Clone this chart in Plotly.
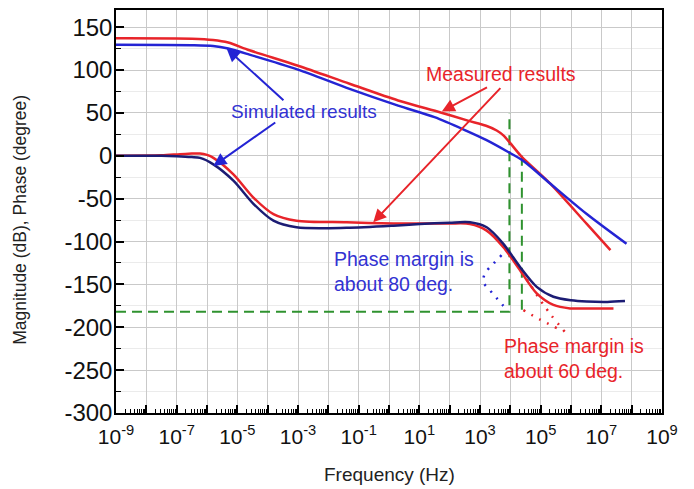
import plotly.graph_objects as go

# ---------------- data ----------------
# log10 of frequency (Hz) and values
mag_meas_logf = [-9, -6.5, -5.8, -5.3, -4.6, -3.0, -1.3, 0.3, 1.7, 2.6, 3.2, 3.55, 3.77, 3.99, 4.37, 5.3, 6.52, 7.3]
mag_meas_db = [137, 136.5, 135, 132, 123, 105, 84, 64.5, 50.5, 41, 35, 29.5, 23.8, 15, -1, -32, -79.5, -110]

mag_sim_logf = [-9, -6.5, -5.8, -5.3, -4.6, -3.0, -1.3, 0.3, 1.5, 2.5, 3.2, 3.9, 4.43, 5.3, 6.52, 7.83]
mag_sim_db = [129.5, 129, 128, 125, 118, 100.5, 78, 58.5, 45, 30, 18.5, 5, -6, -32, -68, -102.7]

ph_meas_logf = [-9, -7.5, -6.89, -6.5, -6.23, -6.0, -5.79, -5.13, -4.47, -3.81, -3.05, -1.4, 0.15, 1.02, 2.0, 2.67, 3.22, 3.77, 4.32, 4.87, 5.42, 5.97, 6.6, 7.4]
ph_meas_deg = [0, 0.5, 1.9, 2.5, 2.7, 1, -2.4, -21.6, -48.7, -68, -75.7, -77.6, -79, -79, -79, -79.5, -87.3, -106.6, -133.6, -160.5, -174, -178, -178, -178]

ph_sim_logf = [-9, -7.5, -7, -6.5, -6.23, -5.79, -5.13, -4.47, -3.81, -3.05, -1.4, 0.15, 1.02, 2.0, 2.67, 3.22, 3.77, 4.32, 4.87, 5.42, 6.0, 6.52, 7.2, 7.78]
ph_sim_deg = [0, 0, -0.5, -1.5, -2.5, -10, -29, -56, -75.7, -83.4, -84, -81.5, -79.5, -78, -77.6, -83.4, -102.7, -129.7, -152.9, -164.4, -168.5, -170, -170.5, -169.5]

# green dashed guides
guide1_logf = [-9, 3.97, 3.97]
guide1_val = [-182, -182, 50]
guide2_logf = [4.38, 4.38]
guide2_val = [0, -182]

# dotted pointers
dot_blue_logf = [3.71, 3.44, 3.17, 3.11, 3.33, 3.55, 3.77]
dot_blue_val = [-116, -126, -137, -147, -157, -166, -175]
dot_red1_logf = [4.37, 4.65, 4.98, 5.35, 5.86]
dot_red1_val = [-135.5, -150, -168, -186, -208]
dot_red2_logf = [4.43, 4.98, 5.53]
dot_red2_val = [-180, -191, -201]

x_tick_exp = list(range(-9, 10))
y_ticks = [-300, -250, -200, -150, -100, -50, 0, 50, 100, 150]


def hz(lst):
    return [10 ** v for v in lst]


RED = "#e8242a"
BLUE = "#2424d4"
NAVY = "#1c1c74"
GREEN = "#2f922f"
TXT_BLUE = "#3232d2"
FONT = "Liberation Sans, Arial, sans-serif"

fig = go.Figure()

fig.add_trace(go.Scatter(x=hz(guide1_logf), y=guide1_val, mode="lines",
                         line=dict(color=GREEN, width=2, dash="10px,6px")))
fig.add_trace(go.Scatter(x=hz(guide2_logf), y=guide2_val, mode="lines",
                         line=dict(color=GREEN, width=2, dash="10px,6px")))

fig.add_trace(go.Scatter(x=hz(dot_blue_logf), y=dot_blue_val, mode="lines",
                         line=dict(color=BLUE, width=2.5, dash="2px,7px", shape="spline")))
fig.add_trace(go.Scatter(x=hz(dot_red1_logf), y=dot_red1_val, mode="lines",
                         line=dict(color=RED, width=2.5, dash="2px,7px", shape="spline")))
fig.add_trace(go.Scatter(x=hz(dot_red2_logf), y=dot_red2_val, mode="lines",
                         line=dict(color=RED, width=2.5, dash="2px,7px", shape="spline")))

fig.add_trace(go.Scatter(x=hz(mag_meas_logf), y=mag_meas_db, mode="lines",
                         line=dict(color=RED, width=2.5, shape="spline", smoothing=0.8)))
fig.add_trace(go.Scatter(x=hz(ph_meas_logf), y=ph_meas_deg, mode="lines",
                         line=dict(color=RED, width=2.5, shape="spline", smoothing=0.8)))
fig.add_trace(go.Scatter(x=hz(mag_sim_logf), y=mag_sim_db, mode="lines",
                         line=dict(color=BLUE, width=2.5, shape="spline", smoothing=0.8)))
fig.add_trace(go.Scatter(x=hz(ph_sim_logf), y=ph_sim_deg, mode="lines",
                         line=dict(color=NAVY, width=2.5, shape="spline", smoothing=0.8)))

x_ticktext = [f"10<sup>{e}</sup>" if e % 2 != 0 else "" for e in x_tick_exp]

fig.update_xaxes(
    type="log", range=[-9, 9],
    tickmode="array", tickvals=hz(x_tick_exp), ticktext=x_ticktext,
    ticks="inside", ticklen=8, tickwidth=1.5, tickcolor="black",
    minor=dict(ticks="inside", ticklen=4, tickwidth=1, tickcolor="black", dtick="D1", showgrid=False),
    showgrid=True, gridcolor="#c9c9c9", gridwidth=1,
    showline=True, linecolor="black", linewidth=1.5, mirror=True,
    zeroline=False, ticklabelstandoff=4,
    tickfont=dict(family=FONT, size=21, color="#111"),
)
fig.update_yaxes(
    range=[-300, 170],
    tickmode="array", tickvals=y_ticks, ticktext=[str(v) for v in y_ticks],
    ticks="inside", ticklen=8, tickwidth=1.5, tickcolor="black",
    minor=dict(ticks="inside", ticklen=5, tickwidth=1, tickcolor="black", dtick=25,
               showgrid=True, gridcolor="#ebebeb", gridwidth=1),
    showgrid=True, gridcolor="#c9c9c9", gridwidth=1,
    showline=True, linecolor="black", linewidth=1.5, mirror=True,
    zeroline=False, ticklabelstandoff=-3,
    tickfont=dict(family=FONT, size=24, color="#111"),
)

annotations = [
    dict(text="Frequency (Hz)", xref="paper", yref="paper", x=0.5, y=-0.153,
         xanchor="center", yanchor="middle", showarrow=False,
         font=dict(family=FONT, size=19, color="#222")),
    dict(text="Magnitude (dB), Phase (degree)", xref="paper", yref="paper", x=-0.176, y=0.479,
         xanchor="center", yanchor="middle", textangle=-90, showarrow=False,
         font=dict(family=FONT, size=17.5, color="#222")),
    dict(text="Simulated results", x=-2.80, y=51.6, xref="x", yref="y", showarrow=False,
         xanchor="center", yanchor="middle", font=dict(family=FONT, size=19, color=TXT_BLUE)),
    dict(text="Measured results", x=3.69, y=95.6, xref="x", yref="y", showarrow=False,
         xanchor="center", yanchor="middle", font=dict(family=FONT, size=19.5, color=RED)),
    dict(text="Phase margin is<br>about 80 deg.", x=-1.88, y=-135.5, xref="x", yref="y", showarrow=False,
         xanchor="left", yanchor="middle", align="left", font=dict(family=FONT, size=19.5, color=TXT_BLUE)),
    dict(text="Phase margin is<br>about 60 deg.", x=3.71, y=-236.4, xref="x", yref="y", showarrow=False,
         xanchor="left", yanchor="middle", align="left", font=dict(family=FONT, size=19.5, color=RED)),
]

arrows = [
    (-5.35, 124.9, -3.43, 63.2, BLUE),
    (-5.79, -12, -3.70, 40, BLUE),
    (1.74, 51.6, 3.28, 80.6, RED),
    (-0.52, -77.6, 3.72, 80.6, RED),
]
for hx, hy, tx, ty, c in arrows:
    annotations.append(dict(text="", x=hx, y=hy, ax=tx, ay=ty, xref="x", yref="y",
                            axref="x", ayref="y", showarrow=True, arrowhead=2,
                            arrowsize=1.3, arrowwidth=2, arrowcolor=c, standoff=0))

# the page body adds an 8px offset, so the figure is sized to fit the 694x489 window
fig.update_layout(
    width=686, height=481,
    margin=dict(l=108, r=32, t=0, b=76),
    paper_bgcolor="white", plot_bgcolor="white",
    showlegend=False,
    annotations=annotations,
)

fig.write_html("out.html")
